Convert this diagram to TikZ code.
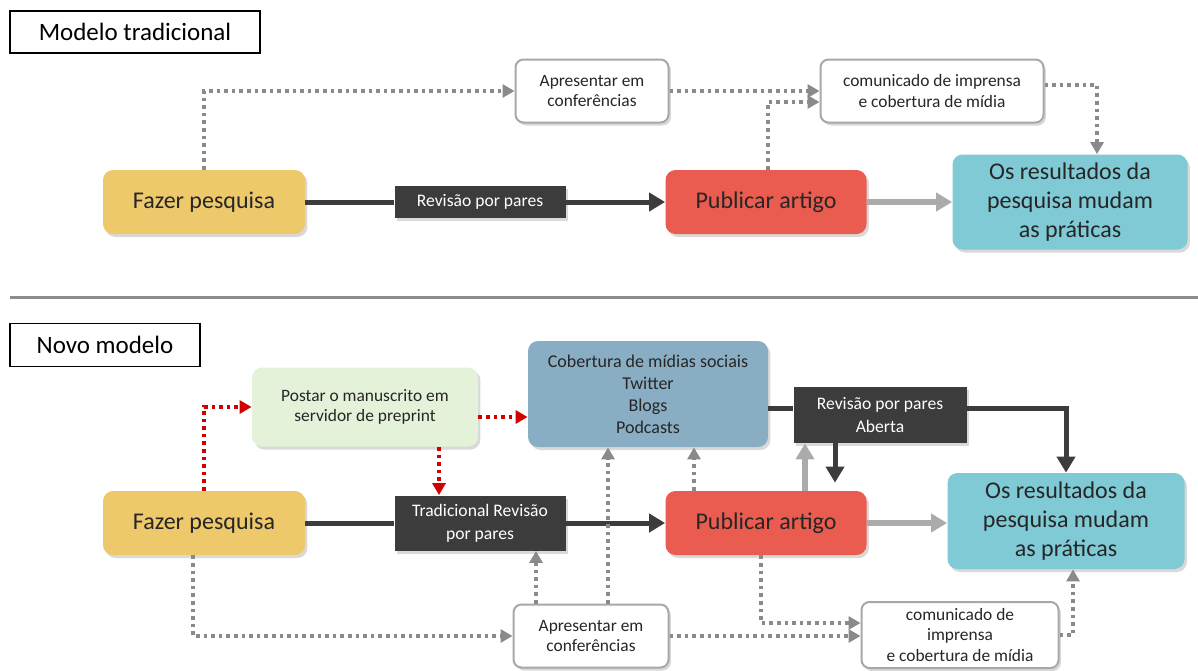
\documentclass[tikz,border=0pt]{standalone}
\usepackage{fontspec}
\setmainfont{Carlito}
\usetikzlibrary{arrows.meta,shadows}

\definecolor{amarelo}{HTML}{EDC96C}
\definecolor{vermelha}{HTML}{E95C4F}
\definecolor{ciano}{HTML}{80CAD6}
\definecolor{cinza}{HTML}{3C3C3C}
\definecolor{verdeclaro}{HTML}{E3F2D8}
\definecolor{azul}{HTML}{89ADC3}
\definecolor{borda}{HTML}{A8A8A8}
\definecolor{pontos}{HTML}{8A8A8A}

\begin{document}
\begin{tikzpicture}[x=0.5pt, y=-0.5pt,
    caixa/.style={rounded corners=5pt, align=center, inner sep=2pt, text=black!85,
        font=\fontsize{12pt}{14.5pt}\selectfont,
        drop shadow={opacity=0.3, shadow xshift=1.2pt, shadow yshift=-1.5pt}},
    escura/.style={fill=cinza, text=white, align=center, inner sep=2pt,
        font=\fontsize{8.8pt}{11.5pt}\selectfont,
        drop shadow={opacity=0.3, shadow xshift=1.2pt, shadow yshift=-1.5pt}},
    branca/.style={caixa, fill=white, draw=borda, line width=1pt, rounded corners=4pt,
        font=\fontsize{8.7pt}{10.3pt}\selectfont},
    pequena/.style={font=\fontsize{8.7pt}{10.3pt}\selectfont},
    titulo/.style={draw=black, line width=0.8pt, fill=white, inner sep=2pt,
        font=\fontsize{12.5pt}{15pt}\selectfont},
    pontilhado/.style={draw=pontos, line width=1.8pt, dash pattern=on 1.8pt off 2pt,
        -{Triangle[length=6pt,width=6.5pt]}},
    vermelho/.style={pontilhado, draw=red!82!black},
    grossa/.style={draw=cinza, line width=2.5pt},
    clara/.style={draw=black!33, line width=3pt},
    seta/.style={-{Triangle[length=8pt,width=9pt]}}]
    \useasboundingbox (0,0) rectangle (1198,670);

    % modelo tradicional
    \node[titulo, minimum width=125pt, minimum height=21pt] (tit1) at (135,32) {Modelo tradicional};
    \node[caixa, fill=amarelo, minimum width=101pt, minimum height=32pt] (pesq1) at (204,202) {Fazer pesquisa};
    \node[escura, minimum width=85.5pt, minimum height=16pt] (rev1) at (480,202) {Revisão por pares};
    \node[caixa, fill=vermelha, minimum width=100.5pt, minimum height=32pt] (pub1) at (766,202) {Publicar artigo};
    \node[caixa, fill=ciano, minimum width=117.5pt, minimum height=47.5pt] (res1) at (1070,202) {Os resultados da\\pesquisa mudam\\as práticas};
    \node[branca, minimum width=76.5pt, minimum height=31.5pt] (apr1) at (592,91) {Apresentar em\\conferências};
    \node[branca, minimum width=111.5pt, minimum height=31.5pt] (com1) at (932,91) {comunicado de imprensa\\e cobertura de mídia};

    \draw[pontilhado] (pesq1.north) |- (apr1.west);
    \draw[pontilhado] (apr1.east) -- (com1.west);
    \draw[pontilhado] ([xshift=1pt]pub1.north) |- ([yshift=-5.5pt]com1.west);
    \draw[pontilhado] ([yshift=3pt]com1.east) -| ([xshift=13.5pt]res1.north);
    \draw[grossa] (pesq1.east) -- (rev1.west);
    \draw[grossa, seta] (rev1.east) -- (pub1.west);
    \draw[clara, seta] (pub1.east) -- (res1.west);

    % linha divisoria
    \draw[line width=1.5pt, black!45] (10,297) -- (1198,297);

    % novo modelo
    \node[titulo, minimum width=95pt, minimum height=21.5pt] (tit2) at (105,345) {Novo modelo};
    \node[caixa, pequena, fill=verdeclaro, minimum width=113pt, minimum height=39.5pt] (postar) at (365,407) {Postar o manuscrito em\\servidor de preprint};
    \node[caixa, fill=azul, minimum width=120pt, minimum height=53pt, font=\fontsize{9pt}{11pt}\selectfont] (midias) at (648,394) {Cobertura de mídias sociais\\Twitter\\Blogs\\Podcasts};
    \node[escura, minimum width=86.5pt, minimum height=28pt] (aberta) at (880,415) {Revisão por pares\\Aberta};
    \node[caixa, fill=amarelo, minimum width=101pt, minimum height=32pt] (pesq2) at (204,523) {Fazer pesquisa};
    \node[escura, minimum width=85.5pt, minimum height=27.5pt] (trad) at (480,523) {Tradicional Revisão\\por pares};
    \node[caixa, fill=vermelha, minimum width=100.5pt, minimum height=32pt] (pub2) at (766,523) {Publicar artigo};
    \node[caixa, fill=ciano, minimum width=118.5pt, minimum height=48pt] (res2) at (1066,521) {Os resultados da\\pesquisa mudam\\as práticas};
    \node[branca, minimum width=77.5pt, minimum height=31.5pt] (apr2) at (591,636) {Apresentar em\\conferências};
    \node[branca, minimum width=98.5pt, minimum height=33pt] (com2) at (960,635) {comunicado de\\imprensa\\e cobertura de mídia};

    % preprint
    \draw[vermelho] (pesq2.north) |- (postar.west);
    \coordinate (p1) at ([yshift=-5pt]postar.east);
    \draw[vermelho] (p1) -- (p1 -| midias.west);
    \coordinate (p2) at ([xshift=37pt]postar.south);
    \draw[vermelho] (p2) -- (p2 |- trad.north);

    % linhas cheias
    \draw[grossa] (pesq2.east) -- (trad.west);
    \draw[grossa, seta] (trad.east) -- (pub2.west);
    \draw[clara, seta] (pub2.east) -- (pub2.east -| res2.west);
    \coordinate (a1) at ([yshift=3.5pt]aberta.west);
    \coordinate (a2) at ([yshift=3.5pt]aberta.east);
    \draw[grossa] (a1 -| midias.east) -- (a1);
    \draw[grossa, seta] (a2) -| (res2.north);
    \coordinate (a3) at ([xshift=-22.5pt]aberta.south);
    \draw[grossa, seta, shorten >=4pt] (a3) -- (a3 |- pub2.north);
    \coordinate (u1) at ([xshift=19.5pt]pub2.north);
    \draw[clara, seta] (u1) -- (u1 |- aberta.south);

    % pontilhados
    \coordinate (u2) at ([xshift=-36pt]pub2.north);
    \draw[pontilhado] (u2) -- (u2 |- midias.south);
    \coordinate (c1) at ([xshift=8.5pt]apr2.north);
    \draw[pontilhado] (c1) -- (c1 |- midias.south);
    \coordinate (c2) at ([xshift=-27.5pt]apr2.north);
    \draw[pontilhado] (c2) -- (c2 |- trad.south);
    \draw[pontilhado] ([xshift=-5.5pt]pesq2.south) |- (apr2.west);
    \draw[pontilhado] (apr2.east) -- (apr2.east -| com2.west);
    \draw[pontilhado] ([xshift=-2.5pt]pub2.south) |- ([yshift=6pt]com2.west);
    \draw[pontilhado] (com2.east) -| ([xshift=3.5pt]res2.south);
\end{tikzpicture}
\end{document}
